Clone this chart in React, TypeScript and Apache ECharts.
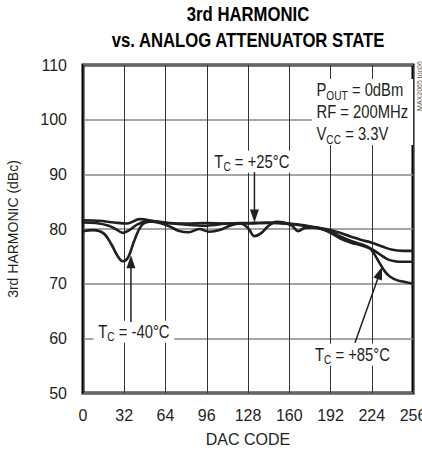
import React, { useEffect, useRef } from "react";
import * as echarts from "echarts";

const FONT = "'Liberation Sans', Arial, Helvetica, sans-serif";

// DAC code axis ticks and harmonic axis ticks
const xMin = 0, xMax = 256, xStep = 32;
const yMin = 50, yMax = 110, yStep = 10;

// T = -40°C
const codesM40 = [0, 8, 16, 22, 27, 31, 35, 40, 46, 54, 64, 80, 96, 112, 128, 144, 160, 176, 192, 208, 216, 224, 232, 240, 248, 256];
const harmM40 = [79.6, 79.8, 79.2, 77.2, 75.0, 74.1, 74.8, 78.0, 80.8, 81.4, 81.2, 80.8, 80.6, 81.0, 81.1, 81.2, 81.0, 80.5, 79.8, 78.6, 78.0, 77.5, 76.8, 76.2, 76.0, 76.0];

// T = +25°C
const codesP25 = [0, 10, 20, 26, 31, 36, 42, 50, 58, 66, 74, 82, 90, 98, 106, 114, 122, 128, 133, 138, 144, 150, 156, 162, 167, 172, 180, 192, 200, 208, 216, 224, 230, 236, 242, 248, 256];
const harmP25 = [81.2, 81.1, 80.6, 79.9, 79.3, 79.8, 80.8, 81.4, 81.2, 80.6, 79.7, 79.4, 80.0, 79.5, 79.8, 80.6, 81.0, 80.2, 78.7, 79.2, 80.6, 81.3, 81.2, 80.6, 79.6, 80.2, 80.3, 79.3, 78.2, 77.5, 77.0, 76.3, 75.4, 74.5, 74.1, 74.0, 74.0];

// T = +85°C
const codesP85 = [0, 12, 24, 34, 44, 54, 64, 80, 96, 112, 128, 144, 160, 176, 192, 200, 208, 216, 222, 226, 230, 234, 238, 244, 250, 256];
const harmP85 = [81.6, 81.5, 81.2, 81.0, 81.8, 81.5, 81.1, 81.0, 81.1, 81.0, 81.0, 81.1, 80.9, 80.4, 79.5, 78.6, 77.8, 77.2, 76.6, 75.4, 73.8, 72.3, 71.3, 70.6, 70.3, 70.0];

const titleLines = ["3rd HARMONIC", "vs. ANALOG ATTENUATOR STATE"];
const xName = "DAC CODE";
const yName = "3rd HARMONIC (dBc)";

const LINE = "#231f20";
const NARROW = 0.78;

const zip = (xs: number[], ys: number[]) => xs.map((x, i) => [x, ys[i]]);

export default function App() {
  const ref = useRef<HTMLDivElement>(null);
  useEffect(() => {
    document.body.style.margin = "0";
    const chart = echarts.init(ref.current!, null, { renderer: "svg" });
    const mkSeries = (name: string, xs: number[], ys: number[]) => ({
      name,
      type: "line",
      data: zip(xs, ys),
      smooth: 0.35,
      symbol: "none",
      lineStyle: { color: LINE, width: 2.6 },
      z: 3,
    });
    chart.setOption({
      animation: false,
      backgroundColor: "#fff",
      textStyle: { fontFamily: FONT },
      grid: {
        left: 83,
        right: 9,
        top: 65,
        bottom: 62,
        containLabel: false,
        outerBoundsMode: "none",
        show: true,
        borderColor: "#000",
        borderWidth: 3,
        backgroundColor: "transparent",
      },
      xAxis: {
        type: "value",
        min: xMin,
        max: xMax,
        interval: xStep,
        name: xName,
        nameLocation: "middle",
        nameGap: 38,
        nameTextStyle: { fontFamily: FONT, fontSize: 16, color: LINE },
        axisLine: { show: false },
        axisTick: { show: false },
        axisLabel: { margin: 14, fontFamily: FONT, fontSize: 16, color: LINE, showMaxLabel: true, showMinLabel: true, hideOverlap: false },
        splitLine: { show: true, lineStyle: { color: "#333", width: 1 } },
      },
      yAxis: {
        type: "value",
        min: yMin,
        max: yMax,
        interval: yStep,
        name: yName,
        nameLocation: "middle",
        nameGap: 63,
        nameRotate: 90,
        nameTextStyle: { fontFamily: FONT, fontSize: 14, color: LINE },
        axisLine: { show: false },
        axisTick: { show: false },
        axisLabel: { margin: 16, fontFamily: FONT, fontSize: 16, color: LINE },
        splitLine: { show: true, lineStyle: { color: "#888", width: 1.5 } },
      },
      series: [
        mkSeries("TC = -40°C", codesM40, harmM40),
        mkSeries("TC = +25°C", codesP25, harmP25),
        mkSeries("TC = +85°C", codesP85, harmP85),
      ],
    });

    const px = (d: number, v: number) => chart.convertToPixel({ gridIndex: 0 }, [d, v]) as number[];

    const arrow = (tail: number[], tip: number[]) => {
      const dx = tip[0] - tail[0];
      const dy = tip[1] - tail[1];
      const len = Math.hypot(dx, dy);
      const ux = dx / len, uy = dy / len;
      const hl = 13, hw = 4.5;
      const bx = tip[0] - ux * hl, by = tip[1] - uy * hl;
      return [
        { type: "line", shape: { x1: tail[0], y1: tail[1], x2: bx + ux * 2, y2: by + uy * 2 }, style: { stroke: LINE, lineWidth: 1.5 }, z: 10 },
        {
          type: "polygon",
          shape: { points: [[tip[0], tip[1]], [bx - uy * hw, by + ux * hw], [bx + uy * hw, by - ux * hw]] },
          style: { fill: LINE },
          z: 10,
        },
      ];
    };

    const rich = {
      m: { fontFamily: FONT, fontSize: 19, lineHeight: 22, verticalAlign: "middle", fill: LINE },
      s: { fontFamily: FONT, fontSize: 13, lineHeight: 10, verticalAlign: "bottom", fill: LINE },
    };

    const label = (d: number, v: number, text: string, align: string = "center") => {
      const p = px(d, v);
      return {
        type: "text",
        x: p[0],
        y: p[1],
        scaleX: NARROW,
        z: 9,
        style: {
          text,
          rich,
          align,
          verticalAlign: "middle",
          backgroundColor: "#fff",
          padding: [0, 6],
        },
      };
    };

    const tP25 = px(133, 90.4), hP25 = px(133, 81.2);
    const tM40 = px(37.2, 63), hM40 = px(37.2, 75.2);
    const tP85 = px(211, 59.2), hP85 = px(232, 73.1);
    const wm = px(256, 101);

    chart.setOption({
      graphic: [
        {
          type: "text",
          x: 248,
          y: 1,
          scaleX: 0.835,
          style: {
            text: titleLines.join("\n"),
            fontFamily: FONT,
            fontWeight: "bold",
            fontSize: 20,
            lineHeight: 26,
            align: "center",
            verticalAlign: "top",
            fill: "#000",
          },
        },
        label(177.5, 101.4, "{m|P}{s|OUT}{m| = 0dBm}\n{m|RF = 200MHz}\n{m|V}{s|CC}{m| = 3.3V}", "left"),
        label(131, 92.3, "{m|T}{s|C}{m| = +25°C}"),
        label(39.5, 61.2, "{m|T}{s|C}{m| = -40°C}"),
        label(209, 57.0, "{m|T}{s|C}{m| = +85°C}"),
        ...arrow(tP25, hP25),
        ...arrow(tM40, hM40),
        ...arrow(tP85, hP85),
        {
          type: "text",
          x: wm[0] + 6,
          y: 86,
          rotation: Math.PI / 2,
          style: { text: "MAX2065 toc06", fontFamily: FONT, fontSize: 7, align: "center", verticalAlign: "middle", fill: "#555" },
        },
      ],
    });
    return () => chart.dispose();
  }, []);
  return <div ref={ref} style={{ width: 422, height: 455 }} />;
}
